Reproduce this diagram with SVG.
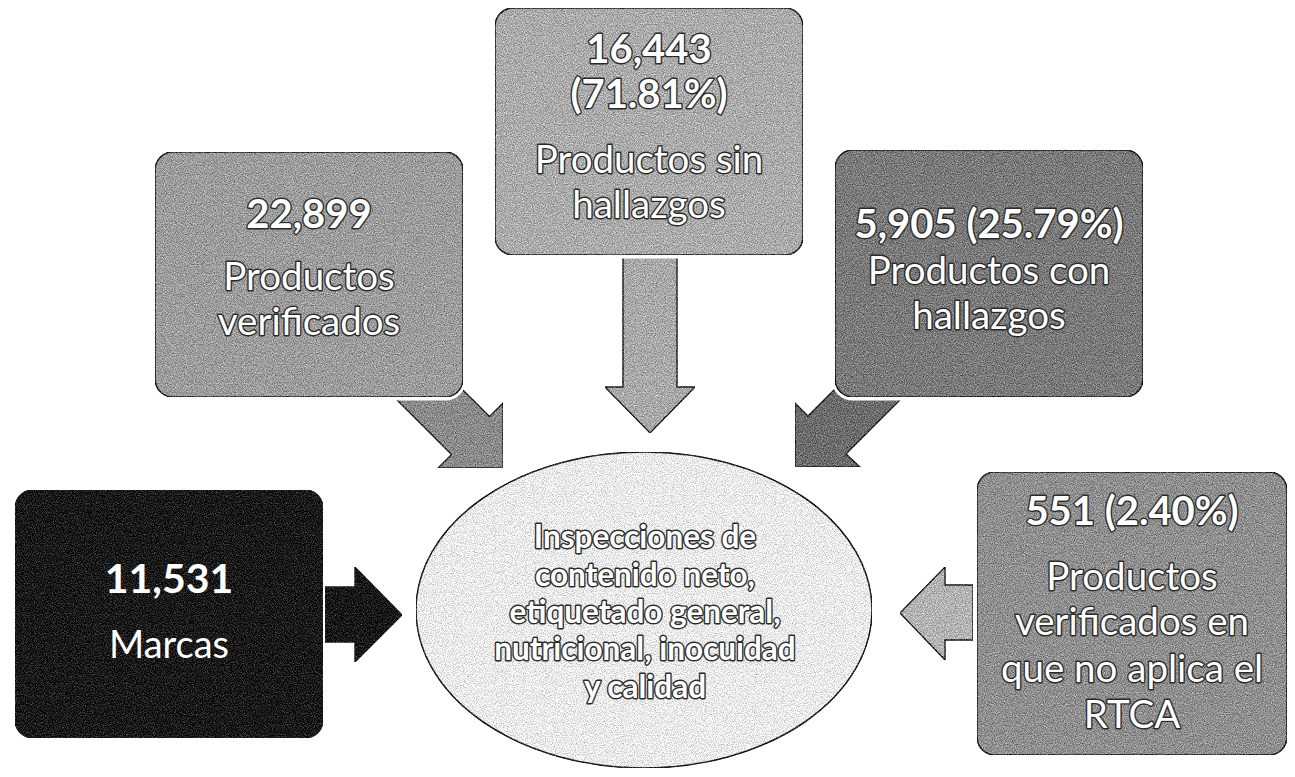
<svg xmlns="http://www.w3.org/2000/svg" width="1295" height="777" viewBox="0 0 1295 777">
  <defs>
    <filter id="grain" x="0" y="0" width="100%" height="100%" color-interpolation-filters="sRGB">
      <feTurbulence type="fractalNoise" baseFrequency="0.9" numOctaves="2" seed="7" result="n"/>
      <feColorMatrix in="n" type="matrix" values="1 0 0 0 0  1 0 0 0 0  1 0 0 0 0  0 0 0 0 1" result="g"/>
      <feComposite in="SourceGraphic" in2="g" operator="arithmetic" k1="0" k2="1" k3="0.7" k4="-0.35" result="m"/>
      <feComposite in="m" in2="SourceGraphic" operator="in"/>
    </filter>
  </defs>
  <style>
    .box { stroke: #1e1e1e; stroke-width: 1.6; }
    .halo { fill: none; stroke: #ffffff; stroke-width: 7; }
    .arrow { stroke: #1e1e1e; stroke-width: 1.4; stroke-linejoin: miter; }
    .t { font-family: "Lato", "Open Sans", "Liberation Sans", sans-serif; text-anchor: middle; fill: #ffffff; stroke: #2a2a2a; stroke-width: 2.8; paint-order: stroke; stroke-linejoin: round; }
    .b { font-weight: bold; }
    .plain { stroke: none; }
  </style>
  <rect width="1295" height="777" fill="#ffffff"/>

  <g id="connectors">
    <polygon class="arrow" fill="#8a8a8a" filter="url(#grain)" points="503,468 438,468 451.5,454.5 396.5,399.5 434.5,361.5 489.5,416.5 503,403"/>
    <polygon class="arrow" fill="#a9a9a9" filter="url(#grain)" points="623,255 677,255 677,387 695,387 650,433 605,387 623,387"/>
    <polygon class="arrow" fill="#6c6c6c" filter="url(#grain)" points="795,467 795,403 808,416 863,361 901,399 846,454 860,467"/>
    <polygon class="arrow" fill="#161616" filter="url(#grain)" points="325,587 355,587 355,567 402,615 355,662 355,642 325,642"/>
    <polygon class="arrow" fill="#b3b3b3" filter="url(#grain)" points="973,585 945,585 945,567 900,613 945,660 945,640 973,640"/>
  </g>

  <g id="node-verificados">
    <rect class="halo" x="155" y="152" width="308" height="245" rx="18"/>
    <rect class="box" x="155" y="152" width="308" height="245" rx="18" fill="#9c9c9c" filter="url(#grain)"/>
    <text class="t b" x="309" y="228" font-size="40">22,899</text>
    <text class="t" x="309" y="290" font-size="38.5">Productos</text>
    <text class="t" x="309" y="335" font-size="38.5">verificados</text>
  </g>

  <g id="node-sin-hallazgos">
    <rect class="halo" x="495" y="8" width="308" height="247" rx="18"/>
    <rect class="box" x="495" y="8" width="308" height="247" rx="18" fill="#ababab" filter="url(#grain)"/>
    <text class="t b" x="649" y="63" font-size="40">16,443</text>
    <text class="t b" x="649" y="108" font-size="40">(71.81%)</text>
    <text class="t" x="649" y="173" font-size="38.5">Productos sin</text>
    <text class="t" x="649" y="218" font-size="38.5">hallazgos</text>
  </g>

  <g id="node-con-hallazgos">
    <rect class="halo" x="835" y="150" width="308" height="247" rx="18"/>
    <rect class="box" x="835" y="150" width="308" height="247" rx="18" fill="#7a7a7a" filter="url(#grain)"/>
    <text class="t b" x="989" y="238" font-size="40">5,905 (25.79%)</text>
    <text class="t" x="989" y="284" font-size="38.5">Productos con</text>
    <text class="t" x="989" y="329" font-size="38.5">hallazgos</text>
  </g>

  <g id="node-marcas">
    <rect class="box" x="15" y="490" width="308" height="248" rx="18" fill="#181818" filter="url(#grain)"/>
    <text class="t b plain" x="169" y="593" font-size="41">11,531</text>
    <text class="t plain" x="169" y="658" font-size="38">Marcas</text>
  </g>

  <g id="node-no-aplica">
    <rect class="box" x="977" y="472" width="310" height="283" rx="18" fill="#8f8f8f" filter="url(#grain)"/>
    <text class="t b" x="1132" y="525" font-size="40">551 (2.40%)</text>
    <text class="t" x="1132" y="590" font-size="38.5">Productos</text>
    <text class="t" x="1132" y="635" font-size="38.5">verificados en</text>
    <text class="t" x="1132" y="682" font-size="38.5">que no aplica el</text>
    <text class="t" x="1132" y="728" font-size="38.5">RTCA</text>
  </g>

  <g id="node-inspecciones">
    <ellipse class="box" cx="644" cy="610" rx="228" ry="158" fill="#ececec" filter="url(#grain)"/>
    <text class="t b" x="645" y="548" font-size="31.5">Inspecciones de</text>
    <text class="t b" x="645" y="586" font-size="31.5">contenido neto,</text>
    <text class="t b" x="645" y="623" font-size="31.5">etiquetado general,</text>
    <text class="t b" x="645" y="660" font-size="31.5">nutricional, inocuidad</text>
    <text class="t b" x="645" y="698" font-size="31.5">y calidad</text>
  </g>
</svg>
